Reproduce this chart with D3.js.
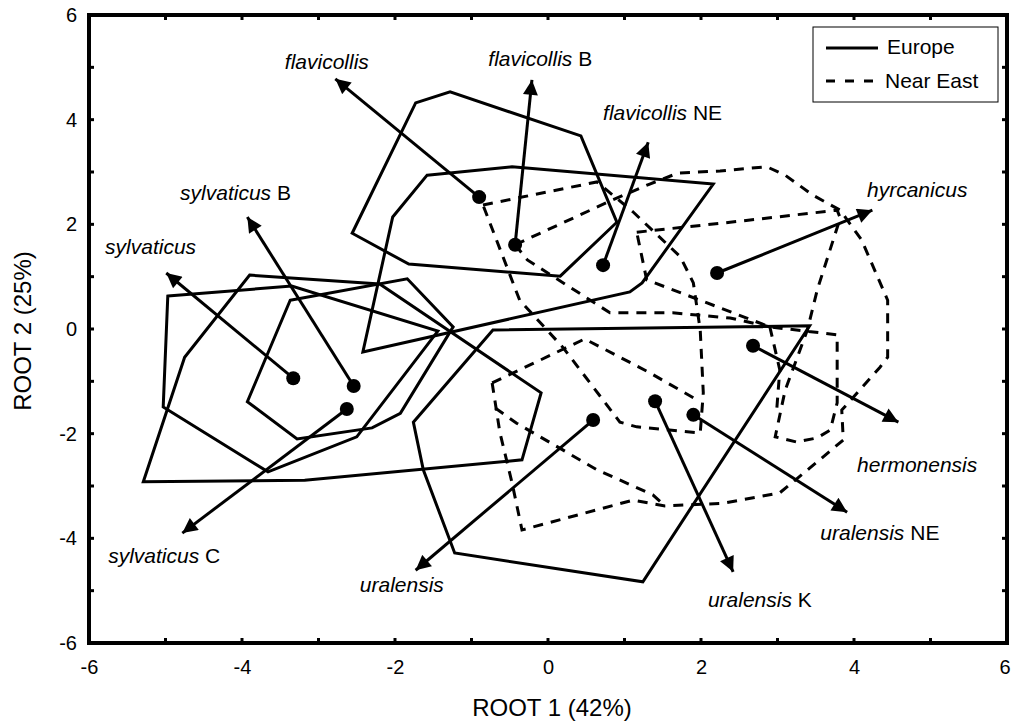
<!DOCTYPE html>
<html>
<head>
<meta charset="utf-8">
<script src="https://cdn.jsdelivr.net/npm/d3@7"></script>
<style>
  body { margin: 0; background: #fff; }
  svg { display: block; }
  text { font-family: "Liberation Sans", Arial, sans-serif; fill: #000; }
</style>
</head>
<body>
<div class="chart"></div>
<script>
// group centroids (ROOT 1, ROOT 2)
var groupNames = ["flavicollis", "flavicollis B", "flavicollis NE", "hyrcanicus", "hermonensis",
  "uralensis NE", "uralensis K", "uralensis", "sylvaticus", "sylvaticus B", "sylvaticus C"];
var centroidX = [-0.90, -0.43, 0.72, 2.21, 2.68, 1.90, 1.40, 0.59, -3.33, -2.54, -2.63];
var centroidY = [2.52, 1.61, 1.22, 1.07, -0.32, -1.64, -1.38, -1.74, -0.94, -1.09, -1.53];
// arrow tips
var tipX = [-2.78, -0.21, 1.31, 4.24, 4.58, 3.91, 2.42, -1.73, -4.99, -3.93, -4.78];
var tipY = [4.78, 4.76, 3.57, 2.27, -1.78, -3.50, -4.64, -4.61, 1.07, 2.14, -3.90];
// label anchor (left edge, middle)
var labelX = [-3.44, -0.78, 0.72, 4.17, 4.04, 3.56, 2.09, -2.46, -5.79, -4.81, -5.75];
var labelY = [5.10, 5.16, 4.13, 2.66, -2.60, -3.90, -5.18, -4.89, 1.57, 2.60, -4.34];

// Europe outlines (solid, closed)
var europe = [
  [[-4.97, 0.63], [-3.35, 0.82], [-1.44, -0.04], [-2.50, -2.06], [-3.66, -2.73], [-5.03, -1.49]],
  [[-3.90, 1.03], [-2.20, 0.86], [-0.09, -1.22], [-0.34, -2.50], [-3.18, -2.89], [-5.29, -2.92], [-4.75, -0.54]],
  [[-3.37, 0.55], [-1.84, 0.96], [-1.24, 0.04], [-1.93, -1.61], [-2.30, -1.89], [-3.28, -2.10], [-3.93, -1.39]],
  [[-1.73, 4.32], [-1.28, 4.53], [0.43, 3.69], [0.90, 2.04], [0.16, 1.01], [-1.82, 1.24], [-2.56, 1.83]],
  [[-1.58, 2.94], [-0.47, 3.10], [2.16, 2.77], [1.23, 0.88], [1.07, 0.71], [-2.42, -0.44], [-2.03, 2.14]],
  [[-0.72, -0.02], [3.42, 0.06], [1.24, -4.83], [-1.22, -4.28], [-1.63, -2.69], [-1.76, -1.78]]
];

// Near East outlines (dashed), closed ones
var nearEastClosed = [
  [[-0.85, 2.37], [0.64, 2.81], [1.11, 2.24], [1.73, 1.38], [1.90, 0.88], [1.99, -0.02], [2.03, -1.22],
   [1.99, -1.99], [1.16, -1.87], [0.94, -1.78], [0.20, -0.36], [-0.37, 0.55]],
  [[1.16, 1.85], [2.38, 2.04], [3.78, 2.27], [3.82, 2.12], [3.52, 0.75], [3.39, -0.02], [3.10, -1.17],
   [2.97, -2.06], [3.25, -2.16], [3.52, -2.08], [3.69, -1.93], [3.78, -1.41], [3.78, -0.11],
   [2.90, 0.04], [1.29, 0.94]]
];
// Near East outline pieces that run into other outlines
var nearEastOpen = [
  [[-0.43, 1.61], [0.85, 2.47], [1.33, 2.77], [1.70, 2.98], [2.25, 3.02], [2.86, 3.10], [3.10, 2.94],
   [3.46, 2.56], [3.82, 2.27], [4.10, 1.70], [4.44, 0.55], [4.44, -0.54], [4.34, -0.73], [3.84, -1.55],
   [3.86, -2.12], [3.42, -2.66], [3.03, -3.13], [2.29, -3.33], [1.53, -3.38], [1.11, -3.27],
   [-0.34, -3.84], [-0.47, -2.94], [-0.63, -1.97], [-0.73, -1.03]],
  [[-0.69, -1.51], [-0.41, -1.80], [0.64, -2.69], [1.37, -3.17], [1.53, -3.38]],
  [[-0.73, -1.03], [0.48, -0.19], [1.31, -0.82], [1.99, -1.39]],
  [[-0.43, 1.61], [-0.27, 1.32], [0.81, 0.31], [1.63, 0.31], [2.38, 0.21], [2.90, 0.04]],
  [[2.90, 0.04], [3.03, -0.78], [2.99, -1.54]]
];

var axisTicks = [-6, -4, -2, 0, 2, 4, 6];
var minorTicks = d3.range(-6, 7, 1);

var w = 1011, h = 721;

var svg = d3.select(".chart").append("svg").attr("width", w).attr("height", h);

var x = d3.scaleLinear().domain([-6, 6]).range([89, 1007]);
var y = d3.scaleLinear().domain([-6, 6]).range([643, 15]);

var defs = svg.append("defs");
defs.append("marker")
  .attr("id", "head")
  .attr("viewBox", "0 0 10 10")
  .attr("refX", 10).attr("refY", 5)
  .attr("markerUnits", "userSpaceOnUse")
  .attr("markerWidth", 17).attr("markerHeight", 15)
  .attr("orient", "auto")
  .append("path").attr("d", "M0,0 L10,5 L0,10 Z").attr("fill", "#000");

var closedLine = d3.line().x(function(d) { return x(d[0]); }).y(function(d) { return y(d[1]); })
  .curve(d3.curveLinearClosed);
var openLine = d3.line().x(function(d) { return x(d[0]); }).y(function(d) { return y(d[1]); });

// outlines
svg.append("g").selectAll("path.eu").data(europe).enter().append("path")
  .attr("class", "eu")
  .attr("d", closedLine)
  .attr("fill", "none").attr("stroke", "#000").attr("stroke-width", 3);

var ne = svg.append("g").attr("fill", "none").attr("stroke", "#000").attr("stroke-width", 3)
  .attr("stroke-dasharray", "10,8");
ne.selectAll("path.nec").data(nearEastClosed).enter().append("path")
  .attr("class", "nec").attr("d", closedLine);
ne.selectAll("path.neo").data(nearEastOpen).enter().append("path")
  .attr("class", "neo").attr("d", openLine);

// arrows
var idx = d3.range(groupNames.length);
svg.append("g").selectAll("line").data(idx).enter().append("line")
  .attr("x1", function(i) { return x(centroidX[i]); })
  .attr("y1", function(i) { return y(centroidY[i]); })
  .attr("x2", function(i) { return x(tipX[i]); })
  .attr("y2", function(i) { return y(tipY[i]); })
  .attr("stroke", "#000").attr("stroke-width", 3)
  .attr("marker-end", "url(#head)");

svg.append("g").selectAll("circle").data(idx).enter().append("circle")
  .attr("cx", function(i) { return x(centroidX[i]); })
  .attr("cy", function(i) { return y(centroidY[i]); })
  .attr("r", 7).attr("fill", "#000");

// labels: italic species name + upright suffix
var labels = svg.append("g").selectAll("text").data(idx).enter().append("text")
  .attr("x", function(i) { return x(labelX[i]); })
  .attr("y", function(i) { return y(labelY[i]) + 7; })
  .style("font-size", "21px");
labels.append("tspan").style("font-style", "italic")
  .text(function(i) { return groupNames[i].split(" ")[0]; });
labels.append("tspan")
  .text(function(i) { var p = groupNames[i].split(" "); return p.length > 1 ? " " + p[1] : ""; });

// frame
svg.append("rect")
  .attr("x", 89).attr("y", 15).attr("width", 918).attr("height", 628)
  .attr("fill", "none").attr("stroke", "#000").attr("stroke-width", 4);

// axes
var fmt = function(d) { return String(d); };
var xAxis = d3.axisBottom(x).tickValues(axisTicks).tickFormat(fmt).tickSize(0).tickPadding(17);
var yAxis = d3.axisLeft(y).tickValues(axisTicks).tickFormat(fmt).tickSize(0).tickPadding(12);
var gx = svg.append("g").attr("transform", "translate(0,643)").call(xAxis);
var gy = svg.append("g").attr("transform", "translate(89,0)").call(yAxis);
[gx, gy].forEach(function(g) {
  g.select(".domain").remove();
  g.selectAll("text").style("font-size", "20px").attr("fill", "#000")
    .style("font-family", "Liberation Sans, Arial, sans-serif");
});
// last x label sits at the window edge
gx.selectAll(".tick").filter(function(d) { return d === 6; }).select("text")
  .attr("text-anchor", "end").attr("x", 3);

// inward minor ticks on all four sides
var tk = svg.append("g").attr("stroke", "#000").attr("stroke-width", 3);
minorTicks.forEach(function(v) {
  tk.append("line").attr("x1", x(v)).attr("x2", x(v)).attr("y1", 643).attr("y2", 638);
  tk.append("line").attr("x1", x(v)).attr("x2", x(v)).attr("y1", 15).attr("y2", 20);
  tk.append("line").attr("y1", y(v)).attr("y2", y(v)).attr("x1", 89).attr("x2", 94);
  tk.append("line").attr("y1", y(v)).attr("y2", y(v)).attr("x1", 1007).attr("x2", 1002);
});

// axis titles
svg.append("text").attr("x", 552).attr("y", 716).attr("text-anchor", "middle")
  .style("font-size", "24px").text("ROOT 1 (42%)");
svg.append("text").attr("transform", "translate(31,331) rotate(-90)").attr("text-anchor", "middle")
  .style("font-size", "24px").text("ROOT 2 (25%)");

// legend
var lg = svg.append("g");
lg.append("rect").attr("x", 813).attr("y", 27).attr("width", 185).attr("height", 75)
  .attr("fill", "#fff").attr("stroke", "#000").attr("stroke-width", 1);
lg.append("line").attr("x1", 826).attr("x2", 878).attr("y1", 48).attr("y2", 48)
  .attr("stroke", "#000").attr("stroke-width", 3);
lg.append("line").attr("x1", 826).attr("x2", 878).attr("y1", 81).attr("y2", 81)
  .attr("stroke", "#000").attr("stroke-width", 3).attr("stroke-dasharray", "9,10");
lg.append("text").attr("x", 887).attr("y", 54).style("font-size", "21px").text("Europe");
lg.append("text").attr("x", 885).attr("y", 88).style("font-size", "21px").text("Near East");
</script>
</body>
</html>
